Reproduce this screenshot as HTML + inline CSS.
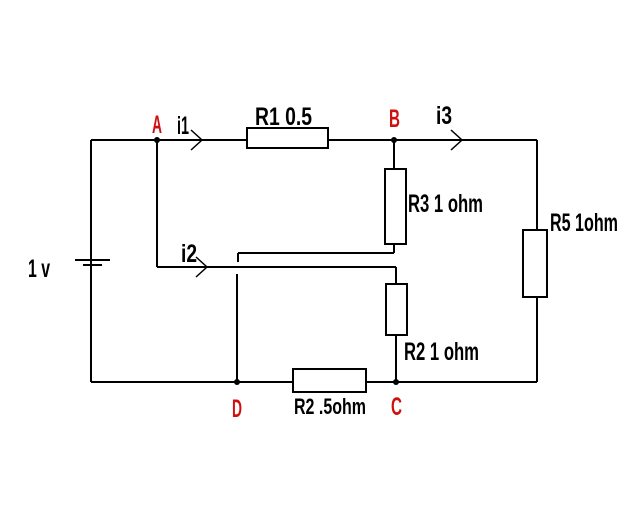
<!DOCTYPE html>
<html><head><style>
html,body{margin:0;padding:0;background:#fff;}
svg{display:block}
text{font-family:"Liberation Sans",sans-serif;font-weight:bold;}
</style></head><body>
<svg width="640" height="512" viewBox="0 0 640 512" xmlns="http://www.w3.org/2000/svg">
<g stroke="#000" stroke-width="2" fill="none">
<line x1="91" y1="140" x2="91" y2="382"/>
<line x1="75" y1="260" x2="110" y2="260"/>
<line x1="83" y1="265" x2="102" y2="265"/>
<line x1="91" y1="140" x2="247" y2="140"/>
<rect x="247" y="128" width="81" height="20"/>
<line x1="328" y1="140" x2="537" y2="140"/>
<line x1="537" y1="140" x2="537" y2="230"/>
<rect x="523" y="230" width="24" height="67"/>
<line x1="537" y1="297" x2="537" y2="382"/>
<line x1="91" y1="382" x2="293" y2="382"/>
<rect x="293" y="369" width="73" height="23"/>
<line x1="366" y1="382" x2="537" y2="382"/>
<line x1="394" y1="140" x2="394" y2="169"/>
<rect x="385" y="169" width="21" height="75"/>
<line x1="394" y1="244" x2="394" y2="253"/>
<line x1="394" y1="253" x2="238" y2="253"/>
<line x1="238" y1="253" x2="238" y2="262"/>
<line x1="157" y1="140" x2="157" y2="267"/>
<line x1="157" y1="267" x2="396" y2="267"/>
<line x1="396" y1="267" x2="396" y2="284"/>
<rect x="386" y="284" width="21" height="51"/>
<line x1="396" y1="335" x2="396" y2="382"/>
<line x1="237" y1="274" x2="237" y2="382"/>
<polyline points="191,130 202,140 191,150" stroke-width="1.5"/>
<polyline points="196,257 207,267 196,277" stroke-width="1.5"/>
<polyline points="451,130 462,140 451,150" stroke-width="1.5"/>
</g>
<g fill="#000">
<circle cx="157" cy="140" r="3"/>
<circle cx="394" cy="140" r="3"/>
<circle cx="237" cy="382" r="3"/>
<circle cx="396" cy="382" r="3"/>
</g>
<g font-size="25" fill="#000">
<text x="255" y="125" textLength="57" lengthAdjust="spacingAndGlyphs">R1  0.5</text>
<text x="177" y="134" textLength="12" lengthAdjust="spacingAndGlyphs">i1</text>
<text x="436" y="124" textLength="16" lengthAdjust="spacingAndGlyphs">i3</text>
<text x="181" y="262" textLength="16" lengthAdjust="spacingAndGlyphs">i2</text>
<text x="408" y="212" textLength="75" lengthAdjust="spacingAndGlyphs">R3 1 ohm</text>
<text x="550" y="231" textLength="68" lengthAdjust="spacingAndGlyphs">R5 1ohm</text>
<text x="404" y="360" textLength="75" lengthAdjust="spacingAndGlyphs">R2 1 ohm</text>
<text x="294" y="414" font-size="22" textLength="72" lengthAdjust="spacingAndGlyphs">R2 .5ohm</text>
<text x="28" y="277" textLength="22" lengthAdjust="spacingAndGlyphs">1 v</text>
</g>
<g font-size="25" fill="#d01010">
<text x="152" y="133" textLength="10" lengthAdjust="spacingAndGlyphs">A</text>
<text x="389" y="127" textLength="11" lengthAdjust="spacingAndGlyphs">B</text>
<text x="232" y="417" textLength="10" lengthAdjust="spacingAndGlyphs">D</text>
<text x="391" y="415" textLength="11" lengthAdjust="spacingAndGlyphs">C</text>
</g>
</svg>
</body></html>
